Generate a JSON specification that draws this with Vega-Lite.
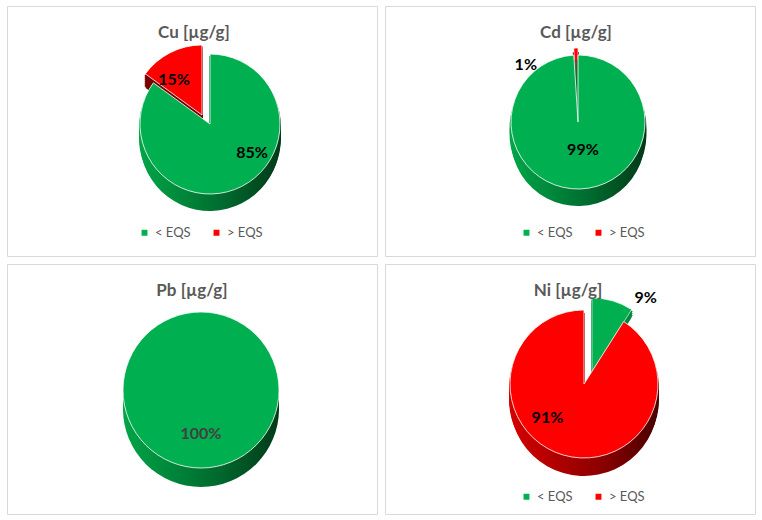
{
  "$schema": "https://vega.github.io/schema/vega-lite/v6.json",
  "padding": {"left": 6, "top": 5, "right": 0, "bottom": 0},
  "background": "#ffffff",
  "columns": 2,
  "spacing": 6,
  "resolve": {"scale": {"color": "independent", "theta": "independent"}, "legend": {"color": "independent"}},
  "config": {
    "view": {"stroke": "#D9D9D9", "strokeWidth": 1},
    "title": {"font": "Lato", "fontSize": 17, "fontWeight": "bold", "color": "#595959", "offset": -36, "anchor": "middle", "frame": "group"}
  },
  "concat": [
    {
      "width": 370, "height": 250,
      "view": {"stroke": "#D9D9D9"},
      "title": {"text": "Cu [µg/g]", "dx": 2},
      "data": {"values": [{"cat": "< EQS", "value": 0.85}, {"cat": "> EQS", "value": 0.15}]},
      "encoding": {
        "theta": {"field": "value", "type": "quantitative", "stack": true},
        "order": {"field": "cat", "type": "nominal", "sort": "ascending"}
      },
      "layer": [
        {"mark": {"type": "arc", "outerRadius": 70, "x": 195, "y": 111, "stroke": "#7A0000", "strokeWidth": 1.5},
         "encoding": {"color": {"value": "#7A0000"}, "opacity": {"condition": {"test": "datum.cat === '> EQS'", "value": 1}, "value": 0}}},
        {"mark": {"type": "arc", "outerRadius": 70, "x": 195, "y": 113, "stroke": "#7A0000", "strokeWidth": 1.5},
         "encoding": {"color": {"value": "#7A0000"}, "opacity": {"condition": {"test": "datum.cat === '> EQS'", "value": 1}, "value": 0}}},
        {"mark": {"type": "arc", "outerRadius": 70, "x": 195, "y": 115, "stroke": "#7A0000", "strokeWidth": 1.5},
         "encoding": {"color": {"value": "#7A0000"}, "opacity": {"condition": {"test": "datum.cat === '> EQS'", "value": 1}, "value": 0}}},
        {"mark": {"type": "arc", "outerRadius": 70, "x": 195, "y": 117, "stroke": "#7A0000", "strokeWidth": 1.5},
         "encoding": {"color": {"value": "#7A0000"}, "opacity": {"condition": {"test": "datum.cat === '> EQS'", "value": 1}, "value": 0}}},
        {"mark": {"type": "arc", "outerRadius": 70, "x": 195, "y": 119, "stroke": "#7A0000", "strokeWidth": 1.5},
         "encoding": {"color": {"value": "#7A0000"}, "opacity": {"condition": {"test": "datum.cat === '> EQS'", "value": 1}, "value": 0}}},
        {"mark": {"type": "arc", "outerRadius": 70, "x": 195, "y": 121, "stroke": "#7A0000", "strokeWidth": 1.5},
         "encoding": {"color": {"value": "#7A0000"}, "opacity": {"condition": {"test": "datum.cat === '> EQS'", "value": 1}, "value": 0}}},
        {"mark": {"type": "arc", "outerRadius": 70, "x": 195, "y": 123},
         "encoding": {"color": {"value": "#7A0000"}, "opacity": {"condition": {"test": "datum.cat === '> EQS'", "value": 1}, "value": 0}}},
        {"mark": {"type": "arc", "outerRadius": 70, "stroke": "#ffffff", "strokeWidth": 0.8, "x": 195, "y": 109},
         "encoding": {
           "color": {"field": "cat", "type": "nominal", "scale": {"domain": ["< EQS", "> EQS"], "range": ["#00B050", "#FF0000"]},
                     "legend": {"orient": "none", "legendX": 131, "legendY": 220, "direction": "horizontal", "title": null, "symbolType": "square", "symbolSize": 55, "labelFontSize": 13, "labelColor": "#595959", "labelFont": "Lato", "columnPadding": 18}},
           "opacity": {"condition": {"test": "datum.cat === '> EQS'", "value": 1}, "value": 0}}},
        {"mark": {"type": "arc", "outerRadius": 70, "x": 203, "y": 121, "strokeWidth": 2, "stroke": {"gradient": "linear", "x1": 0, "x2": 1, "y1": 0, "y2": 0, "stops": [{"offset": 0, "color": "#00A548"}, {"offset": 0.6, "color": "#006A2E"}, {"offset": 1, "color": "#003A18"}]}},
         "encoding": {"color": {"value": {"gradient": "linear", "x1": 0, "x2": 1, "y1": 0, "y2": 0, "stops": [{"offset": 0, "color": "#00A548"}, {"offset": 0.6, "color": "#006A2E"}, {"offset": 1, "color": "#003A18"}]}}, "opacity": {"condition": {"test": "datum.cat === '< EQS'", "value": 1}, "value": 0}}},
        {"mark": {"type": "arc", "outerRadius": 70, "x": 203, "y": 125, "strokeWidth": 2, "stroke": {"gradient": "linear", "x1": 0, "x2": 1, "y1": 0, "y2": 0, "stops": [{"offset": 0, "color": "#00A548"}, {"offset": 0.6, "color": "#006A2E"}, {"offset": 1, "color": "#003A18"}]}},
         "encoding": {"color": {"value": {"gradient": "linear", "x1": 0, "x2": 1, "y1": 0, "y2": 0, "stops": [{"offset": 0, "color": "#00A548"}, {"offset": 0.6, "color": "#006A2E"}, {"offset": 1, "color": "#003A18"}]}}, "opacity": {"condition": {"test": "datum.cat === '< EQS'", "value": 1}, "value": 0}}},
        {"mark": {"type": "arc", "outerRadius": 70, "x": 203, "y": 129, "strokeWidth": 2, "stroke": {"gradient": "linear", "x1": 0, "x2": 1, "y1": 0, "y2": 0, "stops": [{"offset": 0, "color": "#00A548"}, {"offset": 0.6, "color": "#006A2E"}, {"offset": 1, "color": "#003A18"}]}},
         "encoding": {"color": {"value": {"gradient": "linear", "x1": 0, "x2": 1, "y1": 0, "y2": 0, "stops": [{"offset": 0, "color": "#00A548"}, {"offset": 0.6, "color": "#006A2E"}, {"offset": 1, "color": "#003A18"}]}}, "opacity": {"condition": {"test": "datum.cat === '< EQS'", "value": 1}, "value": 0}}},
        {"mark": {"type": "arc", "outerRadius": 70, "x": 203, "y": 132, "strokeWidth": 2, "stroke": {"gradient": "linear", "x1": 0, "x2": 1, "y1": 0, "y2": 0, "stops": [{"offset": 0, "color": "#00A548"}, {"offset": 0.6, "color": "#006A2E"}, {"offset": 1, "color": "#003A18"}]}},
         "encoding": {"color": {"value": {"gradient": "linear", "x1": 0, "x2": 1, "y1": 0, "y2": 0, "stops": [{"offset": 0, "color": "#00A548"}, {"offset": 0.6, "color": "#006A2E"}, {"offset": 1, "color": "#003A18"}]}}, "opacity": {"condition": {"test": "datum.cat === '< EQS'", "value": 1}, "value": 0}}},
        {"mark": {"type": "arc", "outerRadius": 70, "x": 203, "y": 135},
         "encoding": {"color": {"value": {"gradient": "linear", "x1": 0, "x2": 1, "y1": 0, "y2": 0, "stops": [{"offset": 0, "color": "#00A548"}, {"offset": 0.6, "color": "#006A2E"}, {"offset": 1, "color": "#003A18"}]}}, "opacity": {"condition": {"test": "datum.cat === '< EQS'", "value": 1}, "value": 0}}},
        {"mark": {"type": "arc", "outerRadius": 70, "stroke": "#ffffff", "strokeWidth": 0.8, "x": 203, "y": 118},
         "encoding": {
           "color": {"field": "cat", "type": "nominal", "scale": {"domain": ["< EQS", "> EQS"], "range": ["#00B050", "#FF0000"]},
                     "legend": {"orient": "none", "legendX": 131, "legendY": 220, "direction": "horizontal", "title": null, "symbolType": "square", "symbolSize": 55, "labelFontSize": 13, "labelColor": "#595959", "labelFont": "Lato", "columnPadding": 18}},
           "opacity": {"condition": {"test": "datum.cat === '< EQS'", "value": 1}, "value": 0}}},
        {"mark": {"type": "text", "radius": 44, "dx": -8, "dy": 4, "font": "Lato", "fontSize": 16, "fontWeight": "bold", "fill": "#000000", "x": 195, "y": 109},
         "encoding": {"text": {"field": "value", "type": "quantitative", "format": ".0%"}, "opacity": {"condition": {"test": "datum.cat === '> EQS'", "value": 1}, "value": 0}}},
        {"mark": {"type": "text", "radius": 44, "dx": 22, "dy": -10, "font": "Lato", "fontSize": 16, "fontWeight": "bold", "fill": "#000000", "x": 203, "y": 118},
         "encoding": {"text": {"field": "value", "type": "quantitative", "format": ".0%"}, "opacity": {"condition": {"test": "datum.cat === '< EQS'", "value": 1}, "value": 0}}}
      ]
    },
    {
      "width": 370, "height": 250,
      "view": {"stroke": "#D9D9D9"},
      "title": {"text": "Cd [µg/g]", "dx": 6},
      "data": {"values": [{"cat": "< EQS", "value": 0.99}, {"cat": "> EQS", "value": 0.01}]},
      "encoding": {
        "theta": {"field": "value", "type": "quantitative", "stack": true},
        "order": {"field": "cat", "type": "nominal", "sort": "ascending"}
      },
      "layer": [
        {"mark": {"type": "arc", "outerRadius": 67, "x": 193, "y": 114, "stroke": "#7A0000", "strokeWidth": 2},
         "encoding": {"color": {"value": "#7A0000"}, "opacity": {"condition": {"test": "datum.cat === '> EQS'", "value": 1}, "value": 0}}},
        {"mark": {"type": "arc", "outerRadius": 67, "x": 193, "y": 119, "stroke": "#7A0000", "strokeWidth": 2},
         "encoding": {"color": {"value": "#7A0000"}, "opacity": {"condition": {"test": "datum.cat === '> EQS'", "value": 1}, "value": 0}}},
        {"mark": {"type": "arc", "outerRadius": 67, "x": 193, "y": 124},
         "encoding": {"color": {"value": "#7A0000"}, "opacity": {"condition": {"test": "datum.cat === '> EQS'", "value": 1}, "value": 0}}},
        {"mark": {"type": "arc", "outerRadius": 67, "stroke": "#ffffff", "strokeWidth": 0.6, "x": 193, "y": 109},
         "encoding": {
           "color": {"field": "cat", "type": "nominal", "scale": {"domain": ["< EQS", "> EQS"], "range": ["#00B050", "#FF0000"]},
                     "legend": {"orient": "none", "legendX": 135, "legendY": 220, "direction": "horizontal", "title": null, "symbolType": "square", "symbolSize": 55, "labelFontSize": 13, "labelColor": "#595959", "labelFont": "Lato", "columnPadding": 18}},
           "opacity": {"condition": {"test": "datum.cat === '> EQS'", "value": 1}, "value": 0}}},
        {"mark": {"type": "arc", "outerRadius": 67, "x": 193, "y": 122, "strokeWidth": 3, "stroke": {"gradient": "linear", "x1": 0, "x2": 1, "y1": 0, "y2": 0, "stops": [{"offset": 0, "color": "#00A548"}, {"offset": 0.6, "color": "#006A2E"}, {"offset": 1, "color": "#003A18"}]}},
         "encoding": {"color": {"value": {"gradient": "linear", "x1": 0, "x2": 1, "y1": 0, "y2": 0, "stops": [{"offset": 0, "color": "#00A548"}, {"offset": 0.6, "color": "#006A2E"}, {"offset": 1, "color": "#003A18"}]}}, "opacity": {"condition": {"test": "datum.cat === '< EQS'", "value": 1}, "value": 0}}},
        {"mark": {"type": "arc", "outerRadius": 67, "x": 193, "y": 128, "strokeWidth": 3, "stroke": {"gradient": "linear", "x1": 0, "x2": 1, "y1": 0, "y2": 0, "stops": [{"offset": 0, "color": "#00A548"}, {"offset": 0.6, "color": "#006A2E"}, {"offset": 1, "color": "#003A18"}]}},
         "encoding": {"color": {"value": {"gradient": "linear", "x1": 0, "x2": 1, "y1": 0, "y2": 0, "stops": [{"offset": 0, "color": "#00A548"}, {"offset": 0.6, "color": "#006A2E"}, {"offset": 1, "color": "#003A18"}]}}, "opacity": {"condition": {"test": "datum.cat === '< EQS'", "value": 1}, "value": 0}}},
        {"mark": {"type": "arc", "outerRadius": 67, "x": 193, "y": 133},
         "encoding": {"color": {"value": {"gradient": "linear", "x1": 0, "x2": 1, "y1": 0, "y2": 0, "stops": [{"offset": 0, "color": "#00A548"}, {"offset": 0.6, "color": "#006A2E"}, {"offset": 1, "color": "#003A18"}]}}, "opacity": {"condition": {"test": "datum.cat === '< EQS'", "value": 1}, "value": 0}}},
        {"mark": {"type": "arc", "outerRadius": 67, "stroke": "#ffffff", "strokeWidth": 0.8, "x": 193, "y": 116},
         "encoding": {
           "color": {"field": "cat", "type": "nominal", "scale": {"domain": ["< EQS", "> EQS"], "range": ["#00B050", "#FF0000"]},
                     "legend": {"orient": "none", "legendX": 135, "legendY": 220, "direction": "horizontal", "title": null, "symbolType": "square", "symbolSize": 55, "labelFontSize": 13, "labelColor": "#595959", "labelFont": "Lato", "columnPadding": 18}},
           "opacity": {"condition": {"test": "datum.cat === '< EQS'", "value": 1}, "value": 0}}},
        {"mark": {"type": "text", "radius": 70, "dx": -50, "dy": 13, "font": "Lato", "fontSize": 16, "fontWeight": "bold", "fill": "#000000", "x": 193, "y": 116},
         "encoding": {"text": {"field": "value", "type": "quantitative", "format": ".0%"}, "opacity": {"condition": {"test": "datum.cat === '> EQS'", "value": 1}, "value": 0}}},
        {"mark": {"type": "text", "radius": 30, "dx": 4, "dy": -2, "font": "Lato", "fontSize": 16, "fontWeight": "bold", "fill": "#000000", "x": 193, "y": 116},
         "encoding": {"text": {"field": "value", "type": "quantitative", "format": ".0%"}, "opacity": {"condition": {"test": "datum.cat === '< EQS'", "value": 1}, "value": 0}}}
      ]
    },
    {
      "width": 370, "height": 250,
      "view": {"stroke": "#D9D9D9"},
      "title": {"text": "Pb [µg/g]", "dx": 0},
      "data": {"values": [{"cat": "< EQS", "value": 1.0}]},
      "encoding": {
        "theta": {"field": "value", "type": "quantitative", "stack": true},
        "order": {"field": "cat", "type": "nominal", "sort": "ascending"}
      },
      "layer": [
        {"mark": {"type": "arc", "outerRadius": 78, "x": 194, "y": 132},
         "encoding": {"color": {"value": {"gradient": "linear", "x1": 0, "x2": 1, "y1": 0, "y2": 0, "stops": [{"offset": 0, "color": "#00A548"}, {"offset": 0.6, "color": "#006A2E"}, {"offset": 1, "color": "#003A18"}]}}}},
        {"mark": {"type": "arc", "outerRadius": 78, "x": 194, "y": 138},
         "encoding": {"color": {"value": {"gradient": "linear", "x1": 0, "x2": 1, "y1": 0, "y2": 0, "stops": [{"offset": 0, "color": "#00A548"}, {"offset": 0.6, "color": "#006A2E"}, {"offset": 1, "color": "#003A18"}]}}}},
        {"mark": {"type": "arc", "outerRadius": 78, "x": 194, "y": 145},
         "encoding": {"color": {"value": {"gradient": "linear", "x1": 0, "x2": 1, "y1": 0, "y2": 0, "stops": [{"offset": 0, "color": "#00A548"}, {"offset": 0.6, "color": "#006A2E"}, {"offset": 1, "color": "#003A18"}]}}}},
        {"mark": {"type": "arc", "outerRadius": 78, "stroke": "#ffffff", "strokeWidth": 0.8, "x": 194, "y": 126},
         "encoding": {
           "color": {"field": "cat", "type": "nominal", "scale": {"domain": ["< EQS", "> EQS"], "range": ["#00B050", "#FF0000"]}, "legend": null}}},
        {"mark": {"type": "text", "radius": 44, "font": "Lato", "fontSize": 16, "fontWeight": "bold", "fill": "#404040", "x": 194, "y": 126},
         "encoding": {"text": {"field": "value", "type": "quantitative", "format": ".0%"}}}
      ]
    },
    {
      "width": 370, "height": 250,
      "view": {"stroke": "#D9D9D9"},
      "title": {"text": "Ni [µg/g]", "dx": -2},
      "data": {"values": [{"cat": "< EQS", "value": 0.09}, {"cat": "> EQS", "value": 0.91}]},
      "encoding": {
        "theta": {"field": "value", "type": "quantitative", "stack": true},
        "order": {"field": "cat", "type": "nominal", "sort": "ascending"}
      },
      "layer": [
        {"mark": {"type": "arc", "outerRadius": 74, "x": 207, "y": 110, "stroke": "#008A3C", "strokeWidth": 1.5},
         "encoding": {"color": {"value": "#008A3C"}, "opacity": {"condition": {"test": "datum.cat === '< EQS'", "value": 1}, "value": 0}}},
        {"mark": {"type": "arc", "outerRadius": 74, "x": 207, "y": 112, "stroke": "#008A3C", "strokeWidth": 1.5},
         "encoding": {"color": {"value": "#008A3C"}, "opacity": {"condition": {"test": "datum.cat === '< EQS'", "value": 1}, "value": 0}}},
        {"mark": {"type": "arc", "outerRadius": 74, "x": 207, "y": 114, "stroke": "#008A3C", "strokeWidth": 1.5},
         "encoding": {"color": {"value": "#008A3C"}, "opacity": {"condition": {"test": "datum.cat === '< EQS'", "value": 1}, "value": 0}}},
        {"mark": {"type": "arc", "outerRadius": 74, "x": 207, "y": 116},
         "encoding": {"color": {"value": "#008A3C"}, "opacity": {"condition": {"test": "datum.cat === '< EQS'", "value": 1}, "value": 0}}},
        {"mark": {"type": "arc", "outerRadius": 74, "stroke": "#ffffff", "strokeWidth": 0.6, "x": 207, "y": 108},
         "encoding": {
           "color": {"field": "cat", "type": "nominal", "scale": {"domain": ["< EQS", "> EQS"], "range": ["#00B050", "#FF0000"]},
                     "legend": {"orient": "none", "legendX": 135, "legendY": 226, "direction": "horizontal", "title": null, "symbolType": "square", "symbolSize": 55, "labelFontSize": 13, "labelColor": "#595959", "labelFont": "Lato", "columnPadding": 18}},
           "opacity": {"condition": {"test": "datum.cat === '< EQS'", "value": 1}, "value": 0}}},
        {"mark": {"type": "arc", "outerRadius": 74, "x": 199, "y": 124, "strokeWidth": 2, "stroke": {"gradient": "linear", "x1": 0, "x2": 1, "y1": 0, "y2": 0, "stops": [{"offset": 0, "color": "#D40000"}, {"offset": 0.6, "color": "#8E0000"}, {"offset": 1, "color": "#4A0000"}]}},
         "encoding": {"color": {"value": {"gradient": "linear", "x1": 0, "x2": 1, "y1": 0, "y2": 0, "stops": [{"offset": 0, "color": "#D40000"}, {"offset": 0.6, "color": "#8E0000"}, {"offset": 1, "color": "#4A0000"}]}}, "opacity": {"condition": {"test": "datum.cat === '> EQS'", "value": 1}, "value": 0}}},
        {"mark": {"type": "arc", "outerRadius": 74, "x": 199, "y": 128, "strokeWidth": 2, "stroke": {"gradient": "linear", "x1": 0, "x2": 1, "y1": 0, "y2": 0, "stops": [{"offset": 0, "color": "#D40000"}, {"offset": 0.6, "color": "#8E0000"}, {"offset": 1, "color": "#4A0000"}]}},
         "encoding": {"color": {"value": {"gradient": "linear", "x1": 0, "x2": 1, "y1": 0, "y2": 0, "stops": [{"offset": 0, "color": "#D40000"}, {"offset": 0.6, "color": "#8E0000"}, {"offset": 1, "color": "#4A0000"}]}}, "opacity": {"condition": {"test": "datum.cat === '> EQS'", "value": 1}, "value": 0}}},
        {"mark": {"type": "arc", "outerRadius": 74, "x": 199, "y": 132, "strokeWidth": 2, "stroke": {"gradient": "linear", "x1": 0, "x2": 1, "y1": 0, "y2": 0, "stops": [{"offset": 0, "color": "#D40000"}, {"offset": 0.6, "color": "#8E0000"}, {"offset": 1, "color": "#4A0000"}]}},
         "encoding": {"color": {"value": {"gradient": "linear", "x1": 0, "x2": 1, "y1": 0, "y2": 0, "stops": [{"offset": 0, "color": "#D40000"}, {"offset": 0.6, "color": "#8E0000"}, {"offset": 1, "color": "#4A0000"}]}}, "opacity": {"condition": {"test": "datum.cat === '> EQS'", "value": 1}, "value": 0}}},
        {"mark": {"type": "arc", "outerRadius": 74, "x": 199, "y": 135, "strokeWidth": 2, "stroke": {"gradient": "linear", "x1": 0, "x2": 1, "y1": 0, "y2": 0, "stops": [{"offset": 0, "color": "#D40000"}, {"offset": 0.6, "color": "#8E0000"}, {"offset": 1, "color": "#4A0000"}]}},
         "encoding": {"color": {"value": {"gradient": "linear", "x1": 0, "x2": 1, "y1": 0, "y2": 0, "stops": [{"offset": 0, "color": "#D40000"}, {"offset": 0.6, "color": "#8E0000"}, {"offset": 1, "color": "#4A0000"}]}}, "opacity": {"condition": {"test": "datum.cat === '> EQS'", "value": 1}, "value": 0}}},
        {"mark": {"type": "arc", "outerRadius": 74, "x": 199, "y": 138},
         "encoding": {"color": {"value": {"gradient": "linear", "x1": 0, "x2": 1, "y1": 0, "y2": 0, "stops": [{"offset": 0, "color": "#D40000"}, {"offset": 0.6, "color": "#8E0000"}, {"offset": 1, "color": "#4A0000"}]}}, "opacity": {"condition": {"test": "datum.cat === '> EQS'", "value": 1}, "value": 0}}},
        {"mark": {"type": "arc", "outerRadius": 74, "stroke": "#ffffff", "strokeWidth": 0.8, "x": 199, "y": 120},
         "encoding": {
           "color": {"field": "cat", "type": "nominal", "scale": {"domain": ["< EQS", "> EQS"], "range": ["#00B050", "#FF0000"]},
                     "legend": {"orient": "none", "legendX": 135, "legendY": 226, "direction": "horizontal", "title": null, "symbolType": "square", "symbolSize": 55, "labelFontSize": 13, "labelColor": "#595959", "labelFont": "Lato", "columnPadding": 18}},
           "opacity": {"condition": {"test": "datum.cat === '> EQS'", "value": 1}, "value": 0}}},
        {"mark": {"type": "text", "radius": 85, "dx": 30, "dy": 8, "font": "Lato", "fontSize": 16, "fontWeight": "bold", "fill": "#000000", "x": 207, "y": 108},
         "encoding": {"text": {"field": "value", "type": "quantitative", "format": ".0%"}, "opacity": {"condition": {"test": "datum.cat === '< EQS'", "value": 1}, "value": 0}}},
        {"mark": {"type": "text", "radius": 45, "dx": -24, "dy": -9, "font": "Lato", "fontSize": 16, "fontWeight": "bold", "fill": "#000000", "x": 199, "y": 120},
         "encoding": {"text": {"field": "value", "type": "quantitative", "format": ".0%"}, "opacity": {"condition": {"test": "datum.cat === '> EQS'", "value": 1}, "value": 0}}}
      ]
    }
  ]
}
